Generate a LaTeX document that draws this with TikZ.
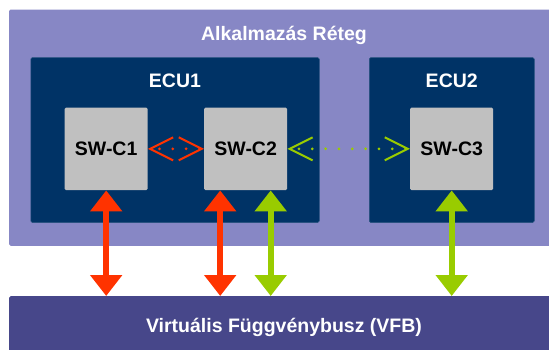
\documentclass[tikz,border=0pt]{standalone}
\usepackage{fontspec}
\setmainfont{Liberation Sans}
\usetikzlibrary{arrows.meta}

\definecolor{layerblue}{RGB}{135,135,197}
\definecolor{ecublue}{RGB}{0,51,102}
\definecolor{swcgray}{RGB}{192,192,192}
\definecolor{busblue}{RGB}{71,71,138}
\definecolor{portred}{RGB}{255,51,0}
\definecolor{portgreen}{RGB}{153,204,0}

\begin{document}
\begin{tikzpicture}[x=1pt,y=-1pt,
  box/.style={rectangle,anchor=north west,inner sep=0pt,rounded corners=1.5pt},
  layerbox/.style={box,fill=layerblue},
  ecubox/.style={box,fill=ecublue,draw=ecublue!85!white,line width=0.5pt,minimum height=165pt},
  swcbox/.style={box,fill=swcgray,minimum width=83pt,minimum height=82.7pt,
    font=\fontsize{19.5}{23}\selectfont\bfseries},
  lbl/.style={anchor=base,text=white,font=\fontsize{19.5}{23}\selectfont\bfseries},
  bus/.style={draw=#1,line width=6pt,>={Triangle[width=31pt,length=21pt]},<->},
  dotlink/.style={draw=#1,line width=3pt,line cap=round,dash pattern=on 0pt off 13.33pt,
    dash phase=5pt,>={Straight Barb[length=23pt,width=23pt,line width=2pt]},<->}]
  \clip (0,0) rectangle (549,349);

  % application layer
  \node[layerbox,minimum width=550pt,minimum height=236.4pt] (app) at (9,9.3) {};
  \node[lbl] (apptitle) at (284,40) {Alkalmazás Réteg};

  % ECUs
  \node[ecubox,minimum width=288.5pt] (ecu1) at (30.5,57.3) {};
  \node[lbl] (ecu1title) at ([yshift=-30.4pt]ecu1.north) {ECU1};
  \node[ecubox,minimum width=165pt] (ecu2) at (369,57.3) {};
  \node[lbl] (ecu2title) at ([yshift=-30.4pt]ecu2.north) {ECU2};

  % software components
  \node[swcbox] (swc1) at (64.5,107.3) {SW-C1};
  \node[swcbox] (swc2) at (204,107.3) {SW-C2};
  \node[swcbox] (swc3) at (410,107.3) {SW-C3};

  % virtual function bus
  \node[box,fill=busblue,minimum width=550pt,minimum height=70pt] (vfb) at (9,296) {};
  \node[lbl] (vfbtitle) at (284,332.3) {Virtuális Függvénybusz (VFB)};

  % ports to the bus
  \coordinate (p1) at (swc1.south);
  \coordinate (p2) at ([xshift=-25.5pt]swc2.south);
  \coordinate (p3) at ([xshift=25pt]swc2.south);
  \coordinate (p4) at (swc3.south);
  \draw[bus=portred] (p1) -- (p1 |- vfb.north);
  \draw[bus=portred] (p2) -- (p2 |- vfb.north);
  \draw[bus=portgreen] (p3) -- (p3 |- vfb.north);
  \draw[bus=portgreen] (p4) -- (p4 |- vfb.north);

  % links between components
  \draw[dotlink=portred] (swc1.east) -- (swc2.west);
  \draw[dotlink=portgreen] (swc2.east) -- (swc3.west);
\end{tikzpicture}
\end{document}
